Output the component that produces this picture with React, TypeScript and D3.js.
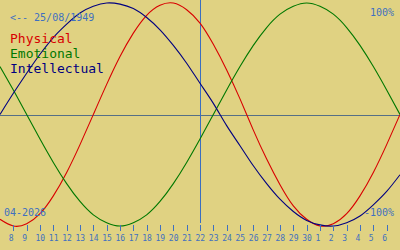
import React from "react";
import * as d3 from "d3";

// Days shown along the bottom (index 0 is the left edge, index 30 the right edge)
const days = [7, 8, 9, 10, 11, 12, 13, 14, 15, 16, 17, 18, 19, 20, 21, 22, 23, 24, 25, 26, 27, 28, 29, 30, 1, 2, 3, 4, 5, 6, 7];
const todayIndex = 15;

// Series values (percent) per day
const physical = [-94, -100, -98, -89, -73, -52, -27, 0, 27, 52, 73, 89, 98, 100, 94, 82, 63, 40, 14, -14, -40, -63, -82, -94, -100, -98, -89, -73, -52, -27, 0];
const emotional = [43, 22, 0, -22, -43, -62, -78, -90, -97, -100, -97, -90, -78, -62, -43, -22, 0, 22, 43, 62, 78, 90, 97, 100, 97, 90, 78, 62, 43, 22, 0];
const intellectual = [0, 19, 37, 54, 69, 81, 91, 97, 100, 99, 95, 87, 76, 62, 46, 28, 10, -10, -28, -46, -62, -76, -87, -95, -99, -100, -97, -91, -81, -69, -54];

const seriesNames = ["Physical", "Emotional", "Intellectual"];
const seriesColors = ["#d80000", "#007800", "#000080"];
const seriesData = [physical, emotional, intellectual];

const birthLabel = "<-- 25/08/1949";
const monthLabel = "04-2026";
const topLabel = "100%";
const bottomLabel = "-100%";

export default function App() {
  const W = 400;
  const H = 250;
  const x = d3.scaleLinear().domain([0, days.length - 1]).range([0, W]);
  const y = d3.scaleLinear().domain([-100, 100]).range([226, 3]);
  const line = d3
    .line<number>()
    .x((_, i) => x(i))
    .y((d) => y(d))
    .curve(d3.curveNatural);

  const textBlue = "#3f70c0";
  const mono = "'DejaVu Sans Mono', 'Liberation Mono', monospace";

  return (
    <svg
      width={W}
      height={H}
      style={{ position: "absolute", left: 0, top: 0, display: "block" }}
    >
      <rect x={0} y={0} width={W} height={H} fill="#e0d282" />
      {/* center horizontal axis */}
      <line x1={0} x2={W} y1={115.5} y2={115.5} stroke="#556f86" strokeWidth={1} shapeRendering="crispEdges" />
      {/* today vertical line */}
      <line x1={Math.round(x(todayIndex)) + 0.5} x2={Math.round(x(todayIndex)) + 0.5} y1={0} y2={223} stroke="#3a6ec0" strokeWidth={1} shapeRendering="crispEdges" />

      {seriesData.map((s, i) => (
        <path key={i} d={line(s) || ""} fill="none" stroke={seriesColors[i]} strokeWidth={1.1} />
      ))}

      {/* ticks and labels */}
      {days.map((d, i) =>
        i === 0 || i === days.length - 1 ? null : (
          <g key={i}>
            <line
              x1={Math.round(x(i)) + 0.5}
              x2={Math.round(x(i)) + 0.5}
              y1={225}
              y2={231}
              stroke={textBlue}
              strokeWidth={1}
              shapeRendering="crispEdges"
            />
            <text x={x(i) - 4.5} y={241} fill={textBlue} fontFamily={mono} fontSize={8}>
              {d}
            </text>
          </g>
        )
      )}

      <text x={10} y={20.5} fill={textBlue} fontFamily={mono} fontSize={10}>
        {birthLabel}
      </text>
      {seriesNames.map((n, i) => (
        <text key={n} x={10} y={43 + i * 15} fill={seriesColors[i]} fontFamily={mono} fontSize={13}>
          {n}
        </text>
      ))}
      <text x={394} y={16} textAnchor="end" fill={textBlue} fontFamily={mono} fontSize={10}>
        {topLabel}
      </text>
      <text x={4} y={216} fill={textBlue} fontFamily={mono} fontSize={10}>
        {monthLabel}
      </text>
      <text x={394} y={216} textAnchor="end" fill={textBlue} fontFamily={mono} fontSize={10}>
        {bottomLabel}
      </text>
    </svg>
  );
}
